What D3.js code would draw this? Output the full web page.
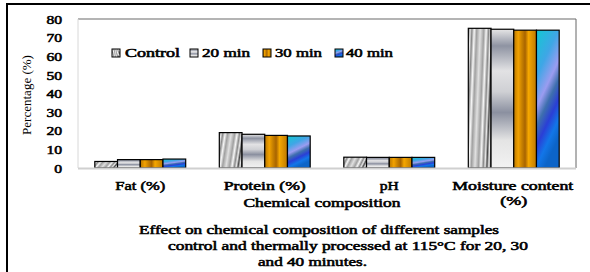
<!DOCTYPE html>
<html><head><meta charset="utf-8">
<script src="https://cdn.jsdelivr.net/npm/d3@7"></script>
<style>body{margin:0;background:#fff}svg{display:block}</style>
</head><body><svg id="c" width="590" height="272"></svg>
<script>
const categories = ["Fat (%)", "Protein (%)", "pH", "Moisture content (%)"];
const seriesNames = ["Control", "20 min", "30 min", "40 min"];
const control = [3.5, 19.0, 5.8, 75.0];
const min20 = [4.5, 18.1, 5.7, 74.5];
const min30 = [4.5, 17.5, 5.7, 74.0];
const min40 = [4.8, 17.2, 5.7, 74.0];
const yTicks = [0, 10, 20, 30, 40, 50, 60, 70, 80];
const values = [control, min20, min30, min40];

const FONT = "Liberation Serif, DejaVu Serif, serif";
const svg = d3.select("#c").attr("font-family", FONT);
const defs = svg.append("defs");
function grad(id, x1, y1, x2, y2, stops, spread) {
  const g = defs.append("linearGradient").attr("id", id)
    .attr("x1", x1).attr("y1", y1).attr("x2", x2).attr("y2", y2);
  if (spread) g.attr("spreadMethod", spread);
  stops.forEach(s => g.append("stop").attr("offset", s[0]).attr("stop-color", s[1]));
}
grad("g0", 0, 0, 0.5, 0.12, [[0, "#4a4a4a"], [0.15, "#e8e8e8"], [0.3, "#8a8a8a"], [0.5, "#f6f6f6"], [0.7, "#a0a0a0"], [1, "#e0e0e0"]], "reflect");
grad("g1", 0, 0, 0, 1, [[0, "#e6e6e6"], [0.12, "#8e93a2"], [0.3, "#e2e2e4"], [0.45, "#cfd0d4"], [0.6, "#8b90a0"], [0.8, "#e4e4e4"], [1, "#f2f2f2"]]);
grad("g2", 0, 0, 1, 0, [[0, "#b87600"], [0.2, "#f2a200"], [0.35, "#c98200"], [0.5, "#a86400"], [0.65, "#f5a700"], [0.85, "#d48c00"], [1, "#c07a00"]]);
grad("g3", 0, 0, 0.35, 1, [[0, "#12c8d2"], [0.3, "#3fa6e6"], [0.5, "#9a9cf0"], [0.62, "#3e6fae"], [0.75, "#2a3fd6"], [0.88, "#1276e8"], [1, "#0c64c8"]]);
const fills = ["url(#g0)", "url(#g1)", "url(#g2)", "url(#g3)"];

svg.append("rect").attr("x", 7).attr("y", 4).attr("width", 600).attr("height", 300)
  .attr("fill", "none").attr("stroke", "#000").attr("stroke-width", 2);

const L = 78, R = 576, T = 19, B = 168;
const y = d3.scaleLinear().domain([0, 80]).range([B, T]);
const x0 = d3.scaleBand().domain(categories).range([L, R]).paddingInner(0.27).paddingOuter(0.135);
const x1 = d3.scaleBand().domain(seriesNames).range([0, x0.bandwidth()]);

svg.append("line").attr("x1", L).attr("x2", R).attr("y1", T).attr("y2", T).attr("stroke", "#b4b4b4").attr("stroke-width", 2);
svg.append("line").attr("x1", R).attr("x2", R).attr("y1", T).attr("y2", B).attr("stroke", "#666").attr("stroke-width", 1);
svg.append("line").attr("x1", L).attr("x2", L).attr("y1", T).attr("y2", B).attr("stroke", "#d8d8d8").attr("stroke-width", 1);

const yAxis = d3.axisLeft(y).tickValues(yTicks).tickSize(0).tickPadding(0);
const ya = svg.append("g").attr("transform", `translate(62,0)`).call(yAxis);
ya.attr("font-family", FONT);
ya.select(".domain").remove();
ya.selectAll("text").attr("font-family", FONT).attr("font-weight", "normal")
  .attr("stroke", "#000").attr("stroke-width", 0.55)
  .attr("font-size", 12).attr("fill", "#000").attr("dy", "0.35em")
  .each(function(d) { const s = String(d); d3.select(this).attr("textLength", s.length * 7.8).attr("lengthAdjust", "spacingAndGlyphs"); });

const groups = svg.append("g").selectAll("g").data(categories).join("g")
  .attr("transform", d => `translate(${x0(d)},0)`);
groups.selectAll("rect").data((c, ci) => seriesNames.map((s, si) => ({ s, si, v: values[si][ci] })))
  .join("rect")
  .attr("x", d => x1(d.s)).attr("width", x1.bandwidth())
  .attr("y", d => y(d.v)).attr("height", d => y(0) - y(d.v))
  .attr("fill", d => fills[d.si]).attr("stroke", "#000").attr("stroke-width", 1.2);

svg.append("line").attr("x1", L).attr("x2", R).attr("y1", B + 0.5).attr("y2", B + 0.5).attr("stroke", "#d0d0d0").attr("stroke-width", 2);

function txt(s, xx, yy, w, opts = {}) {
  const t = svg.append("text").attr("x", xx).attr("y", yy).text(s)
    .attr("font-family", FONT)
    .attr("font-size", opts.size || 12).attr("font-weight", "normal")
    .attr("stroke", "#000").attr("stroke-width", 0.55)
    .attr("dominant-baseline", "central").attr("text-anchor", opts.anchor || "middle");
  if (w) t.attr("textLength", w).attr("lengthAdjust", "spacingAndGlyphs");
  return t;
}

const catW = [50, 82, 19, 121];
categories.forEach((c, i) => {
  const cx = x0(c) + x0.bandwidth() / 2;
  if (c.startsWith("Moisture")) {
    txt("Moisture content", cx - 1, 186, catW[i]);
    txt("(%)", cx, 201, 27);
  } else {
    txt(c, cx, 186, catW[i]);
  }
});
txt("Chemical composition", 322, 203, 157);

svg.append("text").attr("transform", "translate(26,95) rotate(-90)")
  .attr("font-family", FONT)
  .attr("text-anchor", "middle").attr("dominant-baseline", "central")
  .attr("font-size", 13).text("Percentage (%)");

const legX = [112, 190, 263, 335];
const legTX = [125, 202, 275, 346];
const legW = [55, 48, 47, 47];
seriesNames.forEach((s, i) => {
  svg.append("rect").attr("x", legX[i]).attr("y", 49).attr("width", 8).attr("height", 8)
    .attr("fill", fills[i]).attr("stroke", "#000").attr("stroke-width", 1);
  txt(s, legTX[i], 53, legW[i], { anchor: "start", size: 12 });
});

txt("Effect on chemical composition of different samples", 139, 230, 360, { anchor: "start" });
txt("control and thermally processed at 115°C for 20, 30", 168, 246, 360, { anchor: "start" });
txt("and 40 minutes.", 258, 262, 109, { anchor: "start" });
</script></body></html>
